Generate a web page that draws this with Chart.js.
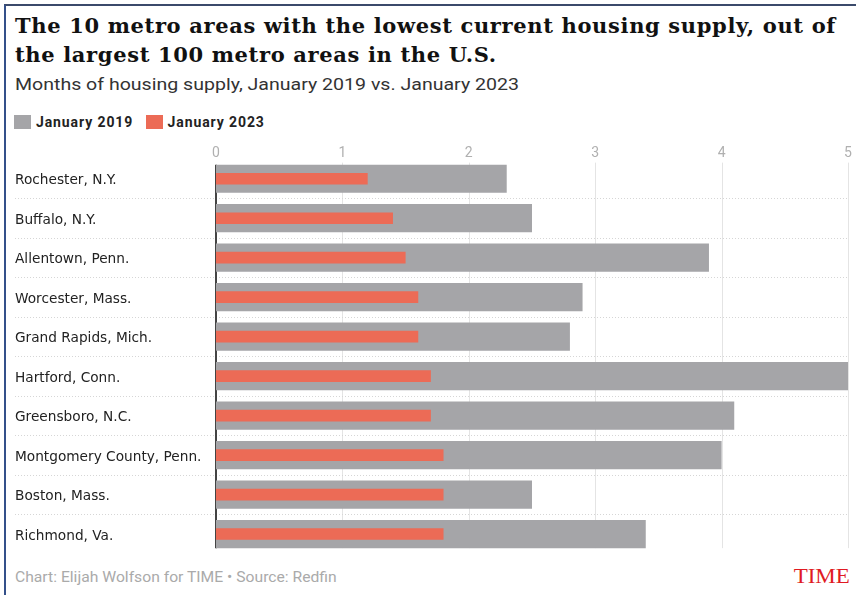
<!DOCTYPE html>
<html>
<head>
<meta charset="utf-8">
<script src="https://cdn.jsdelivr.net/npm/chart.js@4.4.1/dist/chart.umd.min.js"></script>
<style>
  html, body { margin: 0; padding: 0; background: #fff; }
  body { width: 856px; height: 595px; position: relative; overflow: hidden; }
  .frame { position: absolute; left: 4px; top: 4px; width: 900px; height: 700px;
           border-left: 2px solid #34508a; border-top: 2px solid #3b4a6b; }
  .title { position: absolute; left: 15px; top: 11px; white-space: nowrap;
           font-family: "DejaVu Serif", serif; font-weight: bold; font-size: 21px;
           letter-spacing: 0.65px; line-height: 29px; color: #111; }
  .sub { position: absolute; left: 15px; top: 74px; white-space: nowrap;
         font-family: Roboto, sans-serif; font-size: 17px; color: #333;
         transform: scaleX(1.15); transform-origin: left; }
  .legend { position: absolute; left: 14px; top: 114px; white-space: nowrap;
            font-family: Roboto, sans-serif; font-weight: bold; font-size: 14px; color: #222;
            letter-spacing: 0.9px; }
  .legend span.sw { display: inline-block; width: 17px; height: 14px; vertical-align: -2px; margin-right: 5px; }
  .legend span.item { margin-right: 8px; }
  .foot { position: absolute; left: 15px; top: 569px; white-space: nowrap;
          font-family: Roboto, sans-serif; font-size: 14px; color: #aaa;
          transform: scaleX(1.12); transform-origin: left; }
  .brand { position: absolute; right: 6px; top: 565px; white-space: nowrap;
           font-family: "Liberation Serif", serif; font-size: 20px; color: #e01a22;
           transform: scaleX(1.15); transform-origin: right; }
  #wrap { position: absolute; left: 0; top: 135px; width: 856px; height: 430px; }
</style>
</head>
<body>
<div class="frame"></div>
<div class="title">The 10 metro areas with the lowest current housing supply, out of<br>the largest 100 metro areas in the U.S.</div>
<div class="sub">Months of housing supply, January 2019 vs. January 2023</div>
<div class="legend">
  <span class="item"><span class="sw" style="background:#a5a5a8"></span>January 2019</span>
  <span class="item"><span class="sw" style="background:#ec6b56"></span>January 2023</span>
</div>
<div id="wrap"><canvas id="myChart"></canvas></div>
<div class="foot">Chart: Elijah Wolfson for TIME • Source: Redfin</div>
<div class="brand">TIME</div>

<script>
const metros = [
    'Rochester, N.Y.', 'Buffalo, N.Y.', 'Allentown, Penn.', 'Worcester, Mass.',
    'Grand Rapids, Mich.', 'Hartford, Conn.', 'Greensboro, N.C.',
    'Montgomery County, Penn.', 'Boston, Mass.', 'Richmond, Va.'
];
const supply2019 = [2.3, 2.5, 3.9, 2.9, 2.8, 5.0, 4.1, 4.0, 2.5, 3.4];
const supply2023 = [1.2, 1.4, 1.5, 1.6, 1.6, 1.7, 1.7, 1.8, 1.8, 1.8];
const xMin = 0;
const xMax = 5;

const grayBar = 0.715;
const orangeBar = 0.295;

// gridlines, row separators and the zero line drawn under the bars
const guides = {
    id: 'guides',
    beforeDatasetsDraw(chart) {
        const c = chart.ctx;
        const x = chart.scales.x;
        const y = chart.scales.y;
        const band = Math.abs(y.getPixelForTick(1) - y.getPixelForTick(0));
        const top = y.getPixelForTick(0) - band * grayBar / 2;
        const bottom = y.getPixelForTick(metros.length - 1) + band * grayBar / 2;
        c.save();
        c.strokeStyle = '#e4e4e4';
        c.lineWidth = 1;
        for (let v = xMin + 1; v <= xMax; v++) {
            const px = Math.round(x.getPixelForValue(v)) + 0.5;
            c.beginPath();
            c.moveTo(px, top - 2);
            c.lineTo(px, bottom);
            c.stroke();
        }
        c.strokeStyle = '#d6d6d6';
        c.setLineDash([1, 2]);
        for (let i = 1; i < metros.length; i++) {
            const py = Math.round((y.getPixelForTick(i - 1) + y.getPixelForTick(i)) / 2) + 0.5;
            c.beginPath();
            c.moveTo(15, py);
            c.lineTo(chart.chartArea.right, py);
            c.stroke();
        }
        c.setLineDash([]);
        c.strokeStyle = '#444';
        c.lineWidth = 2;
        const zx = x.getPixelForValue(0);
        c.beginPath();
        c.moveTo(zx, top);
        c.lineTo(zx, bottom);
        c.stroke();
        c.restore();
    }
};

const ctx = document.getElementById('myChart').getContext('2d');
const myChart = new Chart(ctx, {
    type: 'bar',
    data: {
        labels: metros,
        datasets: [{
            label: 'January 2023',
            data: supply2023,
            backgroundColor: '#ec6b56',
            barPercentage: orangeBar,
            categoryPercentage: 1,
            grouped: false,
            order: 1
        }, {
            label: 'January 2019',
            data: supply2019,
            backgroundColor: '#a5a5a8',
            barPercentage: grayBar,
            categoryPercentage: 1,
            grouped: false,
            order: 2
        }]
    },
    options: {
        indexAxis: 'y',
        responsive: true,
        maintainAspectRatio: false,
        animation: false,
        layout: { padding: { left: 15, right: 8, top: 0, bottom: 10 } },
        plugins: {
            legend: { display: false },
            tooltip: { enabled: false }
        },
        scales: {
            x: {
                position: 'top',
                min: xMin,
                max: xMax,
                grid: { display: false, drawTicks: false },
                border: { display: false },
                ticks: {
                    stepSize: 1,
                    color: '#b0b0b0',
                    font: { family: 'Roboto', size: 14 },
                    padding: -3
                },
                afterFit(scale) { scale.height = 24; }
            },
            y: {
                grid: { display: false, drawTicks: false },
                border: { display: false },
                ticks: {
                    crossAlign: 'far',
                    color: '#222',
                    labelOffset: 2,
                    font: { family: 'DejaVu Sans', size: 13.7 }
                },
                afterFit(scale) { scale.width = 201; }
            }
        }
    },
    plugins: [guides]
});
</script>
</body>
</html>
